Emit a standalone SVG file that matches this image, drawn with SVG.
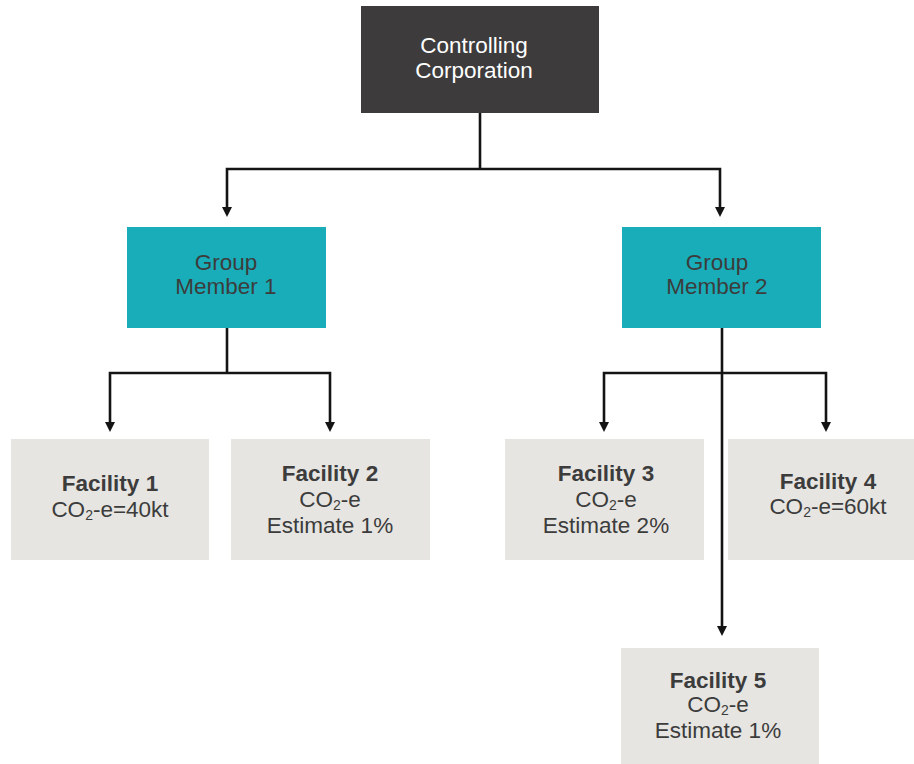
<svg xmlns="http://www.w3.org/2000/svg" width="914" height="764" viewBox="0 0 914 764">
  <style>
    text { font-family: "Liberation Sans", Arial, sans-serif; font-size: 22.5px; text-anchor: middle; fill: #3c3c3c; }
    .title { font-weight: bold; }
    .light { fill: #ffffff; }
    .corp { fill: #3d3b3c; }
    .group { fill: #19adb9; }
    .fac { fill: #e6e5e1; }
    .trunk { fill: none; stroke: #141414; stroke-width: 2.6; }
    .sub { font-size: 14px; }
  </style>
  <rect width="914" height="764" fill="#ffffff"/>

  <g id="connectors">
    <path class="trunk" d="M480,113 V169"/>
    <path class="trunk" d="M227,207 V169 H720 V207"/>
    <path class="trunk" d="M227,328 V373"/>
    <path class="trunk" d="M110,422 V373 H330 V422"/>
    <path class="trunk" d="M722,328 V626"/>
    <path class="trunk" d="M604,422 V373 H826 V422"/>
    <g fill="#141414">
      <path d="M222,207 L232,207 L227,217 Z"/>
      <path d="M715,207 L725,207 L720,217 Z"/>
      <path d="M105,422 L115,422 L110,432 Z"/>
      <path d="M325,422 L335,422 L330,432 Z"/>
      <path d="M599,422 L609,422 L604,432 Z"/>
      <path d="M821,422 L831,422 L826,432 Z"/>
      <path d="M717,626 L727,626 L722,636 Z"/>
    </g>
  </g>

  <g id="controlling-corporation">
    <rect class="corp" x="361" y="6" width="238" height="107"/>
    <text class="light" x="474" y="53">Controlling</text>
    <text class="light" x="474" y="78">Corporation</text>
  </g>

  <g id="group-member-1">
    <rect class="group" x="127" y="227" width="199" height="101"/>
    <text x="226" y="270">Group</text>
    <text x="226" y="294">Member 1</text>
  </g>

  <g id="group-member-2">
    <rect class="group" x="622" y="227" width="199" height="101"/>
    <text x="717" y="270">Group</text>
    <text x="717" y="294">Member 2</text>
  </g>

  <g id="facility-1">
    <rect class="fac" x="11" y="439" width="198" height="121"/>
    <text class="title" x="110" y="491">Facility 1</text>
    <text x="110" y="517">CO<tspan class="sub" dy="2.5">2</tspan><tspan dy="-2.5">-e=40kt</tspan></text>
  </g>

  <g id="facility-2">
    <rect class="fac" x="231" y="439" width="199" height="121"/>
    <text class="title" x="330" y="481">Facility 2</text>
    <text x="330" y="507">CO<tspan class="sub" dy="2.5">2</tspan><tspan dy="-2.5">-e</tspan></text>
    <text x="330" y="533">Estimate 1%</text>
  </g>

  <g id="facility-3">
    <rect class="fac" x="505" y="439" width="199" height="121"/>
    <text class="title" x="606" y="481">Facility 3</text>
    <text x="606" y="507">CO<tspan class="sub" dy="2.5">2</tspan><tspan dy="-2.5">-e</tspan></text>
    <text x="606" y="533">Estimate 2%</text>
  </g>

  <g id="facility-4">
    <rect class="fac" x="728" y="439" width="199" height="121"/>
    <text class="title" x="828" y="489">Facility 4</text>
    <text x="828" y="514">CO<tspan class="sub" dy="2.5">2</tspan><tspan dy="-2.5">-e=60kt</tspan></text>
  </g>

  <g id="facility-5">
    <rect class="fac" x="621" y="648" width="198" height="121"/>
    <text class="title" x="718" y="688">Facility 5</text>
    <text x="718" y="712">CO<tspan class="sub" dy="2.5">2</tspan><tspan dy="-2.5">-e</tspan></text>
    <text x="718" y="738">Estimate 1%</text>
  </g>
</svg>
